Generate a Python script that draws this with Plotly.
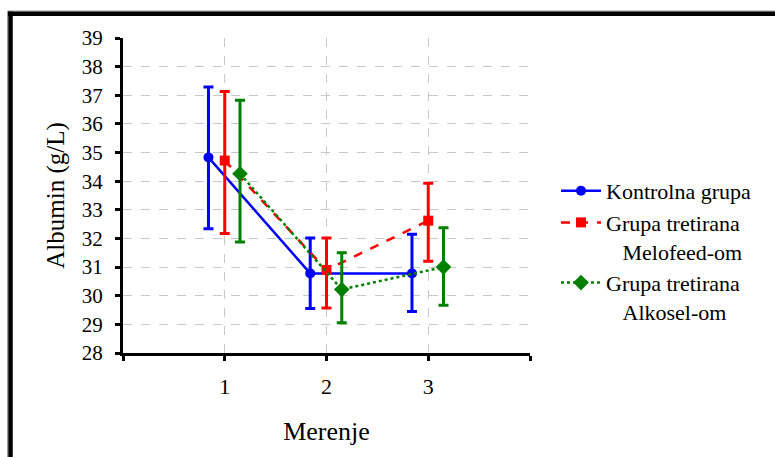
import plotly.graph_objects as go

# ---- data ----
measurements = [1, 2, 3]
series_names = ["Kontrolna grupa",
                "Grupa tretirana<br>\u00a0\u00a0\u00a0Melofeed-om",
                "Grupa tretirana<br>\u00a0\u00a0\u00a0Alkosel-om"]
kontrolna_mean = [34.83, 30.78, 30.78]
kontrolna_upper = [37.29, 32.02, 32.15]
kontrolna_lower = [32.34, 29.55, 29.45]

melofeed_mean = [34.72, 30.90, 32.62]
melofeed_upper = [37.13, 32.02, 33.93]
melofeed_lower = [32.17, 29.57, 31.20]

alkosel_mean = [34.26, 30.22, 31.00]
alkosel_upper = [36.83, 31.50, 32.37]
alkosel_lower = [31.88, 29.06, 29.67]

x_offsets = [-0.16, 0.0, 0.15]
y_ticks = list(range(28, 40))
x_ticks = [1, 2, 3]

# ---- layout constants ----
W, H = 775, 457
ML, MR, MT, MB = 123, 245, 38, 104
PW, PH = W - ML - MR, H - MT - MB

def px(xp):
    return (xp - ML) / PW

def py(yp):
    return 1 - (yp - MT) / PH

fig = go.Figure()

styles = [
    dict(color="#0000FF", dash="solid", symbol="circle", size=10),
    dict(color="#FF0000", dash="dash", symbol="square", size=10),
    dict(color="#008000", dash="dot", symbol="diamond", size=12),
]
data = [
    (kontrolna_mean, kontrolna_upper, kontrolna_lower),
    (melofeed_mean, melofeed_upper, melofeed_lower),
    (alkosel_mean, alkosel_upper, alkosel_lower),
]

for name, (m, up, lo), st, off in zip(series_names, data, styles, x_offsets):
    xs = [v + off for v in measurements]
    fig.add_trace(go.Scatter(
        x=xs, y=m, name=name, mode="lines+markers",
        line=dict(color=st["color"], dash=st["dash"], width=2.5),
        marker=dict(color=st["color"], symbol=st["symbol"], size=st["size"]),
        error_y=dict(type="data", symmetric=False,
                     array=[u - v for u, v in zip(up, m)],
                     arrayminus=[v - l for v, l in zip(m, lo)],
                     color=st["color"], thickness=3, width=5),
    ))

serif = "Liberation Serif"

fig.update_layout(
    width=W, height=H,
    margin=dict(l=ML, r=MR, t=MT, b=MB, autoexpand=False),
    paper_bgcolor="white", plot_bgcolor="white",
    font=dict(family=serif, color="black", size=20),
    showlegend=True,
    legend=dict(x=px(556), y=py(170), xanchor="left", yanchor="top",
                font=dict(family=serif, size=22, color="black"),
                valign="top", bgcolor="rgba(0,0,0,0)", itemwidth=40,
                tracegroupgap=0),
    xaxis=dict(range=[0, 4], tickmode="array", tickvals=x_ticks,
               ticktext=[str(v) for v in x_ticks],
               showline=True, linecolor="black", linewidth=3,
               ticks="outside", ticklen=5, tickwidth=2.5, tickcolor="black",
               minor=dict(dtick=1, tick0=0, ticks="outside", ticklen=5,
                          tickwidth=2.5, tickcolor="black", showgrid=False),
               showgrid=True, gridcolor="#c8c8c8", griddash="dash", gridwidth=1,
               zeroline=False, ticklabelstandoff=7,
               tickfont=dict(family=serif, size=22),
               title=dict(text="Merenje", font=dict(family=serif, size=26), standoff=24)),
    yaxis=dict(range=[28, 39], tickmode="array", tickvals=y_ticks,
               showline=True, linecolor="black", linewidth=3,
               ticks="outside", ticklen=5, tickwidth=2.5, tickcolor="black",
               showgrid=True, gridcolor="#c8c8c8", griddash="dash", gridwidth=1,
               zeroline=False, ticklabelstandoff=8,
               tickfont=dict(family=serif, size=21),
               title=dict(text="Albumin (g/L)", font=dict(family=serif, size=25), standoff=11)),
    shapes=[
        dict(type="line", xref="paper", yref="paper", x0=px(8), x1=px(W + 5),
             y0=py(11), y1=py(11), line=dict(color="#999999", width=1)),
        dict(type="line", xref="paper", yref="paper", x0=px(8), x1=px(W + 5),
             y0=py(13.7), y1=py(13.7), line=dict(color="black", width=4.5)),
        dict(type="line", xref="paper", yref="paper", x0=px(7.5), x1=px(7.5),
             y0=py(11), y1=py(H + 5), line=dict(color="#999999", width=1)),
        dict(type="line", xref="paper", yref="paper", x0=px(10.5), x1=px(10.5),
             y0=py(11.5), y1=py(H + 5), line=dict(color="black", width=4.5)),
    ],
)

fig.write_html("out.html", config={"displayModeBar": False},
               post_script="document.body.style.margin='0';")
